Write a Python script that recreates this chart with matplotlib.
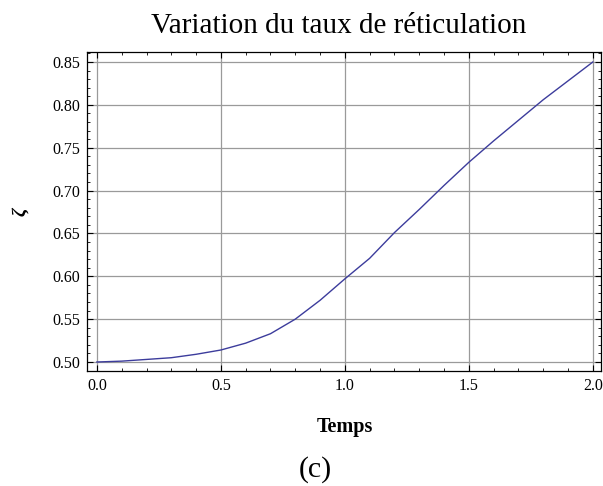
import matplotlib
matplotlib.use("Agg")
import matplotlib.pyplot as plt
from matplotlib.ticker import MultipleLocator

# === Data ===
temps = [0.0, 0.1, 0.2, 0.3, 0.4, 0.5, 0.6, 0.7, 0.8, 0.9, 1.0,
         1.1, 1.2, 1.3, 1.4, 1.5, 1.6, 1.7, 1.8, 1.9, 2.0]
zeta = [0.500, 0.501, 0.503, 0.505, 0.509, 0.514, 0.522, 0.533, 0.550, 0.572, 0.597,
        0.621, 0.651, 0.678, 0.706, 0.733, 0.758, 0.782, 0.806, 0.828, 0.850]

plt.rcParams["font.family"] = ["Liberation Serif", "DejaVu Serif"]

W, H = 603, 486

# === Plot ===
fig = plt.figure(figsize=(W / 100, H / 100), dpi=100)
ax = fig.add_axes([87 / W, 1 - 371 / H, (601 - 87) / W, (371 - 52) / H])

ax.plot(temps, zeta, color="#3c3c9c", lw=1.0)

ax.set_xlim(-0.04, 2.033)
ax.set_ylim(0.4895, 0.8617)
ax.xaxis.set_major_locator(MultipleLocator(0.5))
ax.xaxis.set_minor_locator(MultipleLocator(0.1))
ax.yaxis.set_major_locator(MultipleLocator(0.05))
ax.yaxis.set_minor_locator(MultipleLocator(0.01))
ax.xaxis.set_major_formatter(lambda v, p: f"{v:.1f}")
ax.yaxis.set_major_formatter(lambda v, p: f"{v:.2f}")
ax.tick_params(which="both", direction="in", top=True, right=True, labelsize=11.5)
ax.tick_params(which="major", length=4, width=0.8, pad=5)
ax.tick_params(which="minor", length=2, width=0.6)
ax.grid(which="major", color="#9a9a9a", lw=0.9)
for s in ax.spines.values():
    s.set_linewidth(0.9)

# texts placed in pixel coordinates of the reference
def px(x, y, s, **kw):
    fig.text(x / W, 1 - y / H, s, **kw)

px(339, 33, "Variation du taux de réticulation", fontsize=21, ha="center", va="baseline")
px(345, 432, "Temps", fontsize=14.5, fontweight="bold", ha="center", va="baseline")
px(21, 212, "ζ", fontsize=14, fontweight="bold", style="italic", rotation=90,
   ha="center", va="center")
px(315.5, 477, "(c)", fontsize=21.5, ha="center", va="baseline")

fig.savefig("out.png", dpi=100)
